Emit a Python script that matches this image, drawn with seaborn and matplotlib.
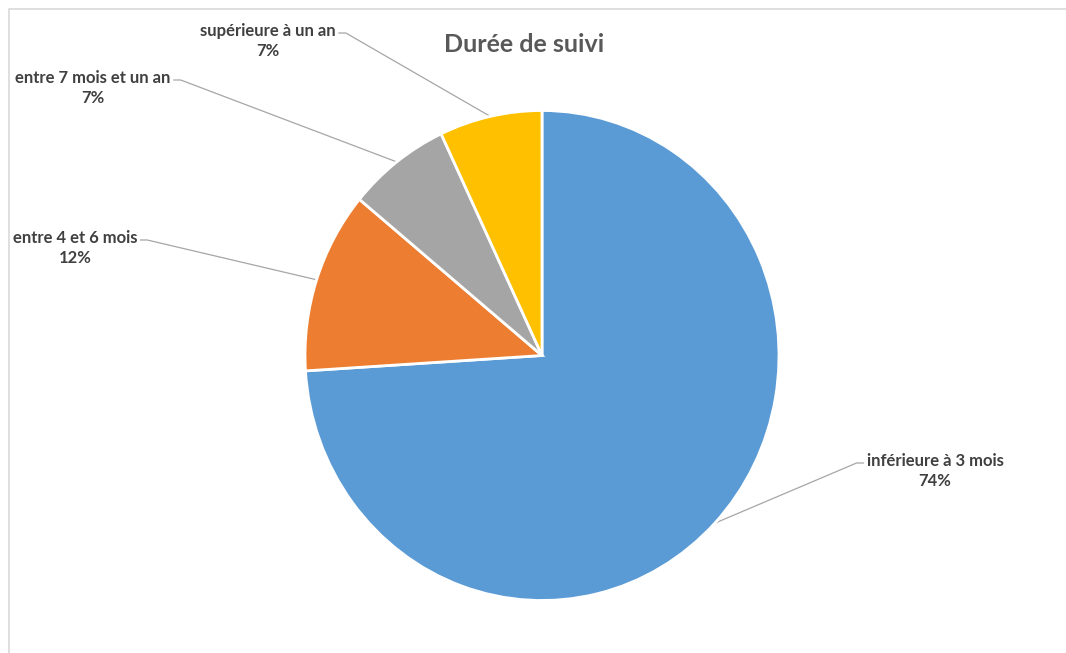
import numpy as np
import matplotlib
matplotlib.use("Agg")
import matplotlib.pyplot as plt
import seaborn as sns

# Follow-up duration shares
categories = ["inférieure à 3 mois", "entre 4 et 6 mois", "entre 7 mois et un an", "supérieure à un an"]
values = [74, 12, 7, 7]
colors = ["#5B9BD5", "#ED7D31", "#A5A5A5", "#FFC000"]

# Label anchors (pixel coordinates, y measured from the top) and side of the leader line
label_pos = [(935, 471), (75, 248), (93, 88), (268, 41)]
label_side = ["left", "right", "right", "right"]

sns.set_theme(style="white")
plt.rcParams["font.family"] = ["Lato", "DejaVu Sans"]

W, H = 1066, 653
fig = plt.figure(figsize=(W / 100, H / 100), dpi=100)

# Overlay axes in pixel units (y up) for labels, leader lines and frame
ax = fig.add_axes([0, 0, 1, 1])
ax.set_xlim(0, W)
ax.set_ylim(0, H)
ax.axis("off")

# Pie axes: plot area slightly taller than wide
cx, cy_top, rx, ry = 542, 355.5, 237, 245
cy = H - cy_top
pax = fig.add_axes([(cx - rx) / W, (cy - ry) / H, 2 * rx / W, 2 * ry / H])
wedges, _ = pax.pie(values, colors=colors, startangle=90, counterclock=False,
                    radius=1, wedgeprops=dict(edgecolor="white", linewidth=2))
pax.set_aspect("auto")
pax.set_xlim(-1, 1)
pax.set_ylim(-1, 1)
pax.axis("off")

total = sum(values)
text_color = "#404040"
line_color = "#A6A6A6"
fs = 12
fig.canvas.draw()
for w, cat, v, (lx, ly), side in zip(wedges, categories, values, label_pos, label_side):
    mid = np.deg2rad((w.theta1 + w.theta2) / 2)
    ex, ey = cx + rx * np.cos(mid), cy + ry * np.sin(mid)
    ty = H - ly
    ax.text(lx, ty, f"{cat}\n{v / total * 100:.0f}%", ha="center", va="center",
            fontsize=fs, fontweight="bold", color=text_color, linespacing=1.3)
    # leader line: short horizontal stub at the label, then straight to the wedge
    t = ax.text(lx, ty, cat, fontsize=fs, fontweight="bold", alpha=0)
    bb = t.get_window_extent(renderer=fig.canvas.get_renderer()).transformed(ax.transData.inverted())
    half = (bb.x1 - bb.x0) / 2
    sy = ty + 8
    if side == "right":
        x0 = lx + half + 3
        x1 = x0 + 7
    else:
        x0 = lx - half - 3
        x1 = x0 - 7
    ax.plot([x0, x1, ex], [sy, sy, ey], color=line_color, lw=0.9)

ax.text(524, H - 44, "Durée de suivi", ha="center", va="center",
        fontsize=18, fontweight="bold", color="#595959")

# chart area frame
ax.plot([9, 9, W], [0, H - 8.5, H - 8.5], color="#D9D9D9", lw=1.2, clip_on=False)

fig.savefig("out.png", dpi=100, facecolor="white")
